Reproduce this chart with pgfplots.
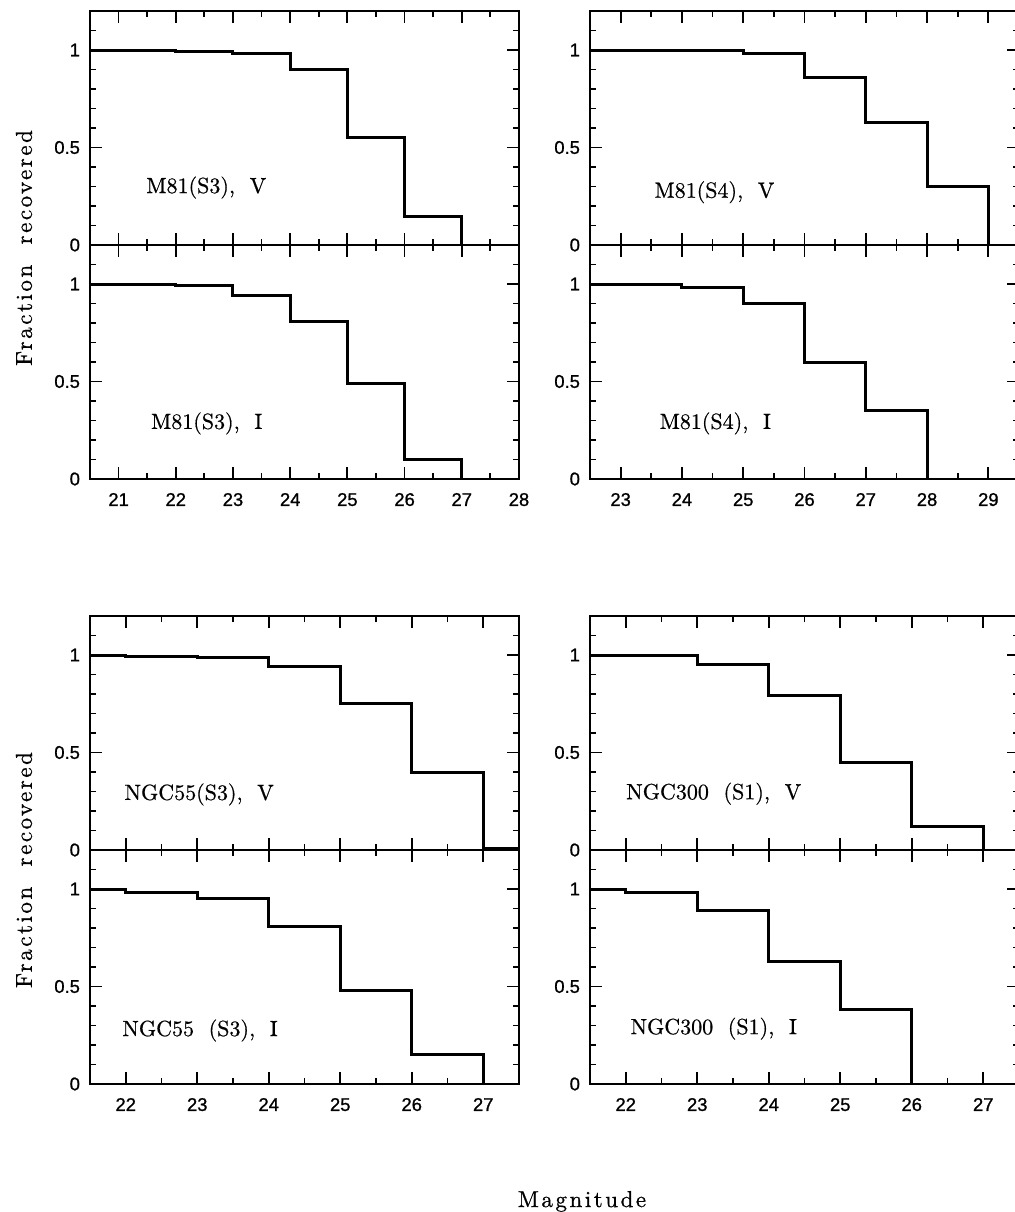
\documentclass[border=0pt]{standalone}
\usepackage{fontspec}
\usepackage{pgfplots}
\pgfplotsset{compat=1.18}
\newfontfamily\ticksf{Liberation Sans}[FakeBold=1]
\newfontfamily\lsp{lmroman10-regular.otf}[LetterSpace=11,FakeBold=0.8]
\newfontfamily\labf{lmroman10-regular.otf}[FakeBold=0.6]

\tikzset{lab/.style={anchor=base west, font=\fontsize{11}{13}\labf}}
\pgfplotsset{
  panel/.style={
    scale only axis, width=214.5pt, height=117pt,
    ymin=0, ymax=1.2,
    ytick={0,0.5,1},
    minor ytick={0.1,0.2,0.3,0.4,0.6,0.7,0.8,0.9,1.1},
    minor x tick num=1,
    tick align=inside,
    major tick length=6pt, minor tick length=3pt,
    axis line style={line width=1pt},
    every tick/.style={line width=0.9pt, black},
    tick label style={font=\fontsize{9.2}{10}\ticksf},
    /pgf/number format/assume math mode=true,
    yticklabel style={xshift=-1.5pt},
    xticklabel style={yshift=-3.5pt},
    clip=true,
  },
  upper/.style={panel, xticklabels={}},
  step/.style={const plot, line width=1.5pt, black},
}

\begin{document}
\begin{tikzpicture}
\path[use as bounding box] (0,0) rectangle (507pt,-606pt);

% ---------- M81(S3) ----------
\begin{axis}[upper, at={(45pt,-122.5pt)}, anchor=south west,
  xmin=20.5, xmax=28, xtick={21,...,28}]
\addplot[step] coordinates {(20.5,1)(22,0.99)(23,0.98)(24,0.90)(25,0.55)(26,0.145)(27,0)(28,0)};
\node[lab] at (rel axis cs:0.115,0.222) {M81(S3),\ \ V};
\end{axis}
\begin{axis}[panel, at={(45pt,-122.5pt)}, anchor=north west,
  xmin=20.5, xmax=28, xtick={21,...,28}]
\addplot[step] coordinates {(20.5,1)(22,0.99)(23,0.94)(24,0.81)(25,0.49)(26,0.10)(27,0)(28,0)};
\node[lab] at (rel axis cs:0.126,0.214) {M81(S3),\ \ I};
\end{axis}

% ---------- M81(S4) ----------
\begin{axis}[upper, at={(295pt,-122.5pt)}, anchor=south west,
  xmin=22.5, xmax=29.5, xtick={23,...,29}]
\addplot[step] coordinates {(22.5,1)(25,0.98)(26,0.86)(27,0.63)(28,0.30)(29,0)(29.5,0)};
\node[lab] at (rel axis cs:0.134,0.202) {M81(S4),\ \ V};
\end{axis}
\begin{axis}[panel, at={(295pt,-122.5pt)}, anchor=north west,
  xmin=22.5, xmax=29.5, xtick={23,...,29}]
\addplot[step] coordinates {(22.5,1)(24,0.98)(25,0.90)(26,0.60)(27,0.35)(28,0)(29.5,0)};
\node[lab] at (rel axis cs:0.146,0.214) {M81(S4),\ \ I};
\end{axis}

% ---------- NGC55(S3) ----------
\begin{axis}[upper, at={(45pt,-425pt)}, anchor=south west,
  xmin=21.5, xmax=27.5, xtick={22,...,27}]
\addplot[step] coordinates {(21.5,1)(22,0.99)(23,0.985)(24,0.94)(25,0.75)(26,0.40)(27,0.008)(27.5,0.008)};
\node[lab] at (rel axis cs:0.064,0.214) {NGC55(S3),\ \ V};
\end{axis}
\begin{axis}[panel, at={(45pt,-425pt)}, anchor=north west,
  xmin=21.5, xmax=27.5, xtick={22,...,27}]
\addplot[step] coordinates {(21.5,1)(22,0.98)(23,0.95)(24,0.81)(25,0.48)(26,0.15)(27,0)(27.5,0)};
\node[lab] at (rel axis cs:0.059,0.205) {NGC55\ \ (S3),\ \ I};
\end{axis}

% ---------- NGC300(S1) ----------
\begin{axis}[upper, at={(295pt,-425pt)}, anchor=south west,
  xmin=21.5, xmax=27.5, xtick={22,...,27}]
\addplot[step] coordinates {(21.5,1)(22,0.995)(23,0.95)(24,0.79)(25,0.45)(26,0.12)(27,0)(27.5,0)};
\node[lab] at (rel axis cs:0.068,0.217) {NGC300\ \ (S1),\ \ V};
\end{axis}
\begin{axis}[panel, at={(295pt,-425pt)}, anchor=north west,
  xmin=21.5, xmax=27.5, xtick={22,...,27}]
\addplot[step] coordinates {(21.5,1)(22,0.98)(23,0.89)(24,0.63)(25,0.38)(26,0)(27.5,0)};
\node[lab] at (rel axis cs:0.078,0.213) {NGC300\ \ (S1),\ \ I};
\end{axis}

% ---------- axis titles ----------
\node[rotate=90, font=\fontsize{11.5}{13}\lsp] at (12pt,-124pt) {Fraction\ \ recovered};
\node[rotate=90, font=\fontsize{11.5}{13}\lsp] at (12pt,-435pt) {Fraction\ \ recovered};
\node[anchor=base, font=\fontsize{11.5}{13}\lsp] at (291pt,-603.5pt) {Magnitude};
\end{tikzpicture}
\end{document}
